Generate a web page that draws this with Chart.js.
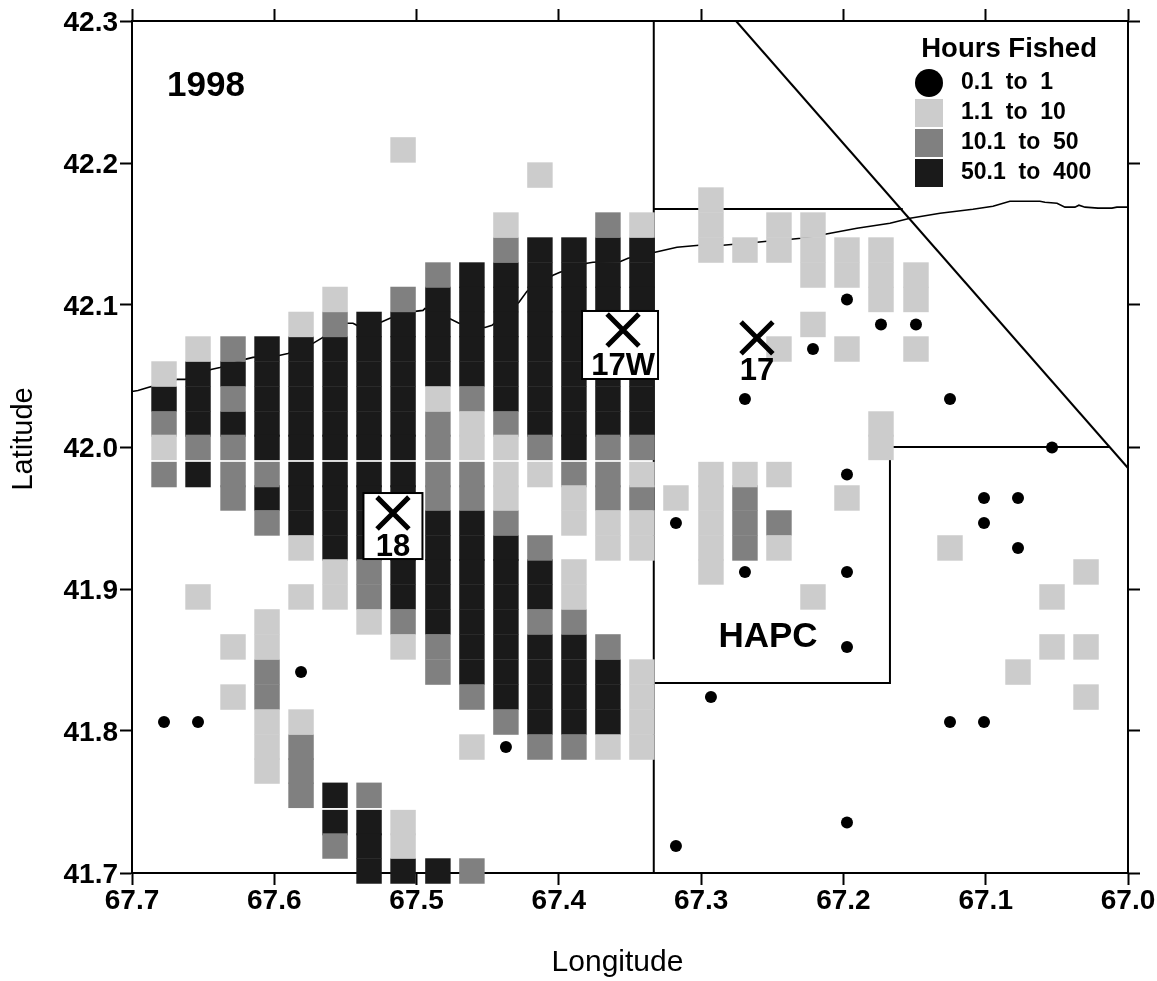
<!DOCTYPE html>
<html>
<head>
<meta charset="utf-8">
<style>html,body{margin:0;padding:0;background:#fff;overflow:hidden}canvas{display:block}</style>
<script src="https://cdn.jsdelivr.net/npm/chart.js@4/dist/chart.umd.min.js"></script>
</head>
<body>
<canvas id="c" width="1157" height="981"></canvas>
<script>
const FONT = '"Liberation Sans", Arial, sans-serif';

// Grid of fished cells: longitudes of the columns, latitudes of the rows
const colLons = [67.6775,67.6536,67.6290,67.6051,67.5812,67.5573,67.5334,67.5095,67.4850,67.4611,67.4372,67.4133,67.3894,67.3655,67.3416,67.3177,67.2931,67.2692,67.2453,67.2214,67.1975,67.1736,67.1490,67.1251,67.1012,67.0773,67.0534,67.0295];
const rowLats = [42.2092,42.1915,42.1739,42.1563,42.1387,42.1211,42.1039,42.0863,42.0690,42.0514,42.0338,42.0162,41.9997,41.9806,41.9641,41.9465,41.9289,41.9120,41.8944,41.8768,41.8592,41.8415,41.8239,41.8063,41.7887,41.7718,41.7547,41.7355,41.7190,41.7014];

// Row indices occupied in each column, one list per hours-fished class
const dotRows = [[23],[23],[],[],[21],[],[],[],[],[],[24],[],[],[],[],[15,28],[22],[10,17],[],[8],[6,13,17,20,27],[7],[7],[10,23],[14,15,23],[14,16],[12],[]];
const lightRows = [[9,12],[8,18],[20,22],[19,20,23,24,25],[7,16,18,23],[6,17,18],[19],[0,20,27,28],[10],[11,12,24],[3,12,13,14],[1,13],[14,15,17,18],[15,16,24],[3,13,15,16,21,22,23,24],[14],[2,3,4,13,14,15,16,17],[4,13],[3,4,8,13,16],[3,4,5,7,18],[4,5,8,14],[4,5,6,11,12],[5,6,8],[16],[],[21],[18,20],[17,20,22]];
const midRows = [[11,13],[12],[8,10,12,13,14],[13,15,21,22],[24,25,26],[7,28],[17,18,26],[6,19],[5,11,12,13,14,20,21],[10,13,14,22,29],[4,11,15,23],[12,16,19,24],[13,19,24],[3,12,13,14,20],[12,14],[],[],[14,15,16],[15],[],[],[],[],[],[],[],[],[]];
const darkRows = [[10],[9,10,11,13],[9,11],[8,9,10,11,12,14],[8,9,10,11,12,13,14,15],[8,9,10,11,12,13,14,15,16,26,27],[7,8,9,10,11,12,13,14,15,16,27,28,29],[7,8,9,10,11,12,13,14,15,16,17,18,29],[6,7,8,9,15,16,17,18,19,29],[5,6,7,8,9,15,16,17,18,19,20,21],[5,6,7,8,9,10,16,17,18,19,20,21,22],[4,5,6,7,8,9,10,11,17,18,20,21,22,23],[4,5,6,7,8,9,10,11,12,20,21,22,23],[4,5,6,7,8,9,10,11,21,22,23],[4,5,6,7,8,9,10,11],[],[],[],[],[],[],[],[],[],[],[],[],[]];

const classLabels = ['0.1  to  1','1.1  to  10','10.1  to  50','50.1  to  400'];
const classColors = ['#000000','#cccccc','#808080','#1a1a1a'];

// Depth contour
const coastLons = [67.7000,67.6958,67.6888,67.6684,67.6628,67.6445,67.6382,67.6206,67.6150,67.5967,67.5904,67.5728,67.5658,67.5489,67.5447,67.5419,67.5250,67.5187,67.5011,67.4955,67.4941,67.4758,67.4702,67.4519,67.4470,67.4280,67.4224,67.4041,67.3992,67.3802,67.3760,67.3563,67.3514,67.3324,67.3170,67.3015,67.2847,67.2608,67.2537,67.2369,67.2298,67.2130,67.1905,67.1673,67.1532,67.1321,67.1090,67.0949,67.0830,67.0619,67.0584,67.0499,67.0443,67.0373,67.0345,67.0302,67.0211,67.0113,67.0078,67.0000];
const coastLats = [42.0391,42.0398,42.0419,42.0476,42.0476,42.0546,42.0560,42.0617,42.0631,42.0645,42.0659,42.0730,42.0772,42.0871,42.0871,42.0857,42.0878,42.0906,42.0955,42.0962,42.0976,42.0899,42.0871,42.0842,42.0857,42.1019,42.1096,42.1209,42.1230,42.1294,42.1301,42.1308,42.1329,42.1371,42.1407,42.1421,42.1421,42.1442,42.1449,42.1463,42.1470,42.1498,42.1541,42.1576,42.1611,42.1646,42.1674,42.1696,42.1731,42.1731,42.1724,42.1717,42.1689,42.1689,42.1703,42.1689,42.1682,42.1682,42.1689,42.1689];

// Area boundaries
const westEdgeLons = [67.3333,67.3333];
const westEdgeLats = [42.3,41.7];
const northEdgeLons = [67.3333,67.1583];
const northEdgeLats = [42.1676,42.1676];
const diagonalLons = [67.2755,67.0];
const diagonalLats = [42.3,41.9852];
const hapcLons = [67.3333,67.1673,67.1673,67.0130];
const hapcLats = [41.8338,41.8338,42.0,42.0];

// Stations
const stationNames = ['17W','18','17'];
const stationLons = [67.3549,67.5166,67.2608];
const stationLats = [42.0824,41.9535,42.0768];

// Free labels
const noteTexts = ['1998','HAPC'];
const noteLons = [67.648,67.253];
const noteLats = [42.2539,41.8662];

const toCells = rowsByCol => rowsByCol.flatMap((rows, c) => rows.map(r => ({x: colLons[c], y: rowLats[r]})));
const toLine = (xs, ys) => xs.map((x, i) => ({x, y: ys[i]}));

const cellDataset = (i, rows, radius, style) => ({
  label: classLabels[i], data: toCells(rows), clip: false,
  pointStyle: style, pointRadius: radius, pointHoverRadius: radius,
  pointBackgroundColor: classColors[i], pointBorderWidth: 0, backgroundColor: classColors[i], showLine: false
});
const lineDataset = (label, xs, ys, w) => ({
  label, data: toLine(xs, ys), showLine: true, pointRadius: 0, borderColor: '#000', borderWidth: w, tension: 0, fill: false, clip: false
});

const boxOf = {'17W': [-41, -19, 76, 68], '18': [-29.5, -20, 59, 66]};
const labelDy = {'17W': 36.5, '18': 34.5, '17': 33.5};

const stationPlugin = {
  id: 'stationPlugin',
  beforeDatasetDraw(chart, args) {
    if (args.index !== 0) return;
    const ctx = chart.ctx, X = chart.scales.x, Y = chart.scales.y;
    ctx.save();
    stationNames.forEach((n, i) => {
      const b = boxOf[n];
      if (!b) return;
      const px = X.getPixelForValue(stationLons[i]), py = Y.getPixelForValue(stationLats[i]);
      ctx.fillStyle = '#fff'; ctx.strokeStyle = '#000'; ctx.lineWidth = 2;
      ctx.fillRect(px + b[0], py + b[1], b[2], b[3]);
      ctx.strokeRect(px + b[0], py + b[1], b[2], b[3]);
    });
    ctx.restore();
  },
  afterDatasetsDraw(chart) {
    const ctx = chart.ctx, X = chart.scales.x, Y = chart.scales.y;
    ctx.save();
    ctx.fillStyle = '#000'; ctx.textAlign = 'center'; ctx.textBaseline = 'middle';
    ctx.font = 'bold 31px ' + FONT;
    stationNames.forEach((n, i) => {
      ctx.fillText(n, X.getPixelForValue(stationLons[i]), Y.getPixelForValue(stationLats[i]) + labelDy[n]);
    });
    ctx.font = 'bold 35px ' + FONT;
    noteTexts.forEach((t, i) => {
      ctx.fillText(t, X.getPixelForValue(noteLons[i]), Y.getPixelForValue(noteLats[i]));
    });
    ctx.restore();
  }
};

const legendPlace = {
  id: 'legendPlace',
  afterLayout(chart) {
    const l = chart.legend;
    const w = l.width, h = l.height;
    l.left = 901.5; l.right = l.left + w;
    l.top = 36; l.bottom = l.top + h;
  }
};

function keyCanvas(i) {
  const cv = document.createElement('canvas');
  cv.width = 28; cv.height = 28;
  const g = cv.getContext('2d');
  g.fillStyle = classColors[i];
  if (i === 0) { g.beginPath(); g.arc(14, 14, 14, 0, Math.PI * 2); g.fill(); }
  else g.fillRect(0, 0, 28, 28);
  return cv;
}
const keyCanvases = [0, 1, 2, 3].map(keyCanvas);

const fixBox = (prop, size) => s => {
  s[prop] = size;
  s.paddingTop = s.paddingBottom = s.paddingLeft = s.paddingRight = 0;
};

new Chart(document.getElementById('c'), {
  type: 'scatter',
  data: {
    datasets: [
      {label: 'Stations', data: toLine(stationLons, stationLats), pointStyle: 'crossRot', pointRadius: 22.5, pointBorderWidth: 5, pointBorderColor: '#000', showLine: false, clip: false},
      cellDataset(0, dotRows, 6, 'circle'),
      cellDataset(1, lightRows, 18, 'rect'),
      cellDataset(2, midRows, 18, 'rect'),
      cellDataset(3, darkRows, 18, 'rect'),
      lineDataset('West edge', westEdgeLons, westEdgeLats, 2),
      lineDataset('North edge', northEdgeLons, northEdgeLats, 2),
      lineDataset('Diagonal edge', diagonalLons, diagonalLats, 2),
      lineDataset('HAPC edge', hapcLons, hapcLats, 2),
      lineDataset('Contour', coastLons, coastLats, 1.6)
    ]
  },
  options: {
    responsive: false, animation: false, devicePixelRatio: 1,
    layout: {padding: 0, autoPadding: false},
    events: [],
    plugins: {
      tooltip: {enabled: false},
      title: {display: false},
      legend: {
        display: true, position: 'chartArea', align: 'start',
        title: {display: true, text: '  Hours Fished', color: '#000', font: {family: FONT, size: 27.5, weight: 'bold', lineHeight: 1}, padding: {top: 0, bottom: 1}},
        labels: {
          color: '#000', font: {family: FONT, size: 23, weight: 'bold'}, padding: 7,
          usePointStyle: true, pointStyleWidth: 41,
          filter: item => classLabels.includes(item.text),
          generateLabels(chart) {
            return Chart.defaults.plugins.legend.labels.generateLabels(chart).map(it => {
              const k = classLabels.indexOf(it.text);
              if (k >= 0) it.pointStyle = keyCanvases[k];
              return it;
            });
          }
        }
      }
    },
    scales: {
      x: {
        type: 'linear', position: 'bottom', min: 67.0, max: 67.7, reverse: true,
        afterFit: fixBox('height', 108),
        grid: {drawOnChartArea: false, drawTicks: true, tickLength: 12, tickWidth: 2, tickColor: '#000'},
        border: {display: true, color: '#000', width: 2},
        ticks: {stepSize: 0.1, color: '#000', padding: -1, maxRotation: 0, autoSkip: false, font: {family: FONT, size: 28, weight: 'bold'}, callback: v => v.toFixed(1)},
        title: {display: true, text: 'Longitude   ', color: '#000', font: {family: FONT, size: 30}, padding: {top: 0, bottom: 0}}
      },
      y: {
        type: 'linear', position: 'left', min: 41.7, max: 42.3,
        afterFit: fixBox('width', 132),
        grid: {drawOnChartArea: false, drawTicks: true, tickLength: 12, tickWidth: 2, tickColor: '#000'},
        border: {display: true, color: '#000', width: 2},
        ticks: {stepSize: 0.1, color: '#000', padding: 2, labelOffset: 2, autoSkip: false, font: {family: FONT, size: 28, weight: 'bold'}, callback: v => v.toFixed(1)},
        title: {display: true, text: '  Latitude', color: '#000', font: {family: FONT, size: 29}, padding: {top: 7, bottom: 0}}
      },
      x2: {
        type: 'linear', position: 'top', min: 67.0, max: 67.7, reverse: true,
        afterFit: fixBox('height', 21),
        grid: {drawOnChartArea: false, drawTicks: true, tickLength: 12, tickWidth: 2, tickColor: '#000'},
        border: {display: true, color: '#000', width: 2},
        ticks: {stepSize: 0.1, display: false}
      },
      y2: {
        type: 'linear', position: 'right', min: 41.7, max: 42.3,
        afterFit: fixBox('width', 29),
        grid: {drawOnChartArea: false, drawTicks: true, tickLength: 12, tickWidth: 2, tickColor: '#000'},
        border: {display: true, color: '#000', width: 2},
        ticks: {stepSize: 0.1, display: false}
      }
    }
  },
  plugins: [stationPlugin, legendPlace]
});
</script>
</body>
</html>
